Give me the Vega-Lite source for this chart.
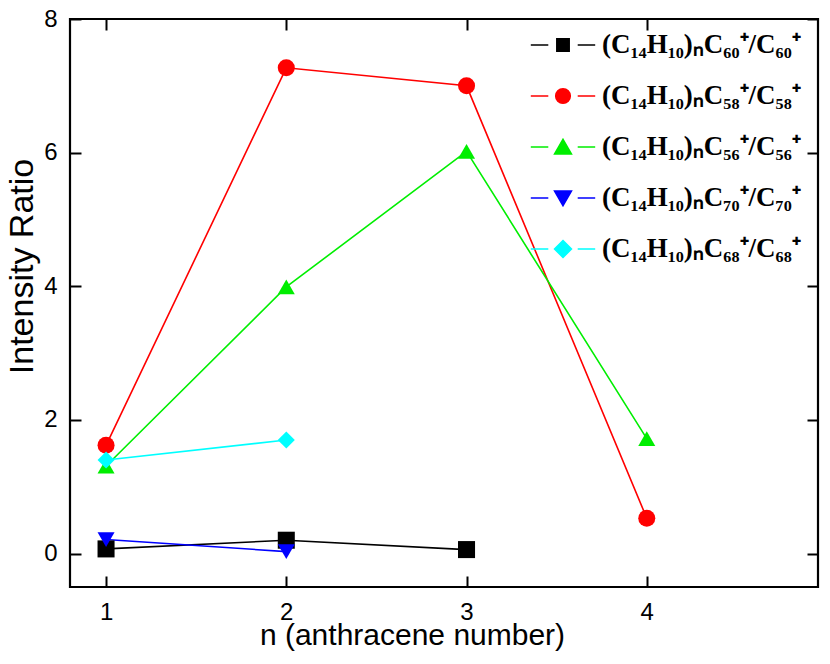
{
  "$schema": "https://vega.github.io/schema/vega-lite/v6.json",
  "autosize": "none",
  "padding": {"left": 70, "top": 19, "right": 12, "bottom": 77},
  "width": 748,
  "height": 568,
  "background": "white",
  "data": {
    "values": [
      {"series": "C60", "n": 1, "ratio": 0.07},
      {"series": "C60", "n": 2, "ratio": 0.2},
      {"series": "C60", "n": 3, "ratio": 0.06},
      {"series": "C58", "n": 1, "ratio": 1.62},
      {"series": "C58", "n": 2, "ratio": 7.27},
      {"series": "C58", "n": 3, "ratio": 7.0},
      {"series": "C58", "n": 4, "ratio": 0.53},
      {"series": "C56", "n": 1, "ratio": 1.31},
      {"series": "C56", "n": 2, "ratio": 3.99},
      {"series": "C56", "n": 3, "ratio": 6.02},
      {"series": "C56", "n": 4, "ratio": 1.72},
      {"series": "C70", "n": 1, "ratio": 0.21},
      {"series": "C70", "n": 2, "ratio": 0.03},
      {"series": "C68", "n": 1, "ratio": 1.4},
      {"series": "C68", "n": 2, "ratio": 1.7}
    ]
  },
  "layer": [
    {
      "mark": {"type": "line", "strokeWidth": 1.6},
      "encoding": {
        "x": {"field": "n", "type": "quantitative", "scale": {"domain": [0.8, 4.95], "nice": false, "zero": false},
          "axis": {"orient": "bottom", "values": [1, 2, 3, 4], "title": "n (anthracene number)", "labelPadding": 24,
            "titleFontSize": 30, "titleX": 342, "titleY": 57, "titleAlign": "center", "titleBaseline": "alphabetic"}},
        "y": {"field": "ratio", "type": "quantitative", "scale": {"domain": [-0.5, 8], "nice": false, "zero": false},
          "axis": {"orient": "left", "values": [0, 2, 4, 6, 8], "title": "Intensity Ratio", "labelPadding": 24,
            "titleFontSize": 34, "titleX": -38, "titleY": 247, "titleAngle": 270, "titleAlign": "center", "titleBaseline": "alphabetic"}},
        "color": {"field": "series", "type": "nominal", "legend": null,
          "scale": {"domain": ["C60", "C58", "C56", "C70", "C68"], "range": ["#000000", "#ff0000", "#00ee00", "#0000ff", "#00ffff"]}},
        "detail": {"field": "series"}
      }
    },
    {
      "mark": {"type": "point", "filled": true, "opacity": 1, "strokeWidth": 0},
      "encoding": {
        "x": {"field": "n", "type": "quantitative", "axis": null},
        "y": {"field": "ratio", "type": "quantitative", "axis": null},
        "fill": {"field": "series", "type": "nominal", "legend": null,
          "scale": {"domain": ["C60", "C58", "C56", "C70", "C68"], "range": ["#000000", "#ff0000", "#00ee00", "#0000ff", "#00ffff"]}},
        "shape": {"field": "series", "type": "nominal", "legend": null,
          "scale": {"domain": ["C60", "C58", "C56", "C70", "C68"], "range": ["square", "circle", "triangle-up", "triangle-down", "diamond"]}},
        "size": {"field": "series", "type": "nominal", "legend": null,
          "scale": {"domain": ["C60", "C58", "C56", "C70", "C68"], "range": [290, 290, 470, 470, 560]}}
      }
    },
    {
      "mark": {"type": "point", "filled": true, "opacity": 0, "size": 784},
      "encoding": {
        "x": {"field": "n", "type": "quantitative", "axis": null},
        "y": {"field": "ratio", "type": "quantitative", "axis": null},
        "fill": {"field": "series", "type": "nominal",
          "scale": {"domain": ["C60", "C58", "C56", "C70", "C68"], "range": ["#000000", "#ff0000", "#00ee00", "#0000ff", "#00ffff"]},
          "legend": {
            "orient": "none", "legendX": 478, "legendY": 11, "title": null, "padding": 0,
            "symbolOpacity": 1, "symbolSize": 784, "symbolStrokeWidth": 1.6, "labelOffset": 24, "rowPadding": 23, "labelLimit": 0,
            "labelFont": "Liberation Serif", "labelFontWeight": "bold", "labelFontSize": 27, "labelColor": "black",
            "labelExpr": "{'C60': '(C₁₄H₁₀)ₙC₆₀⁺/C₆₀⁺', 'C58': '(C₁₄H₁₀)ₙC₅₈⁺/C₅₈⁺', 'C56': '(C₁₄H₁₀)ₙC₅₆⁺/C₅₆⁺', 'C70': '(C₁₄H₁₀)ₙC₇₀⁺/C₇₀⁺', 'C68': '(C₁₄H₁₀)ₙC₆₈⁺/C₆₈⁺'}[datum.value]",
            "encode": {"symbols": {"update": {
              "stroke": {"signal": "{'C60': '#000000', 'C58': '#ff0000', 'C56': '#00ee00', 'C70': '#0000ff', 'C68': '#00ffff'}[datum.value]"},
              "strokeWidth": {"value": 1.6},
              "size": {"value": 784},
              "opacity": {"value": 1}
            }}}
          }},
        "shape": {"field": "series", "type": "nominal",
          "scale": {"domain": ["C60", "C58", "C56", "C70", "C68"], "range": [
            "M-2.3,0H-1.05M1.05,0H2.3M-0.44,-0.44H0.44V0.44H-0.44Z",
            "M-2.3,0H-1.05M1.05,0H2.3M0.52,0A0.52,0.52 0 1,1 -0.52,0A0.52,0.52 0 1,1 0.52,0Z",
            "M-2.3,0H-1.05M1.05,0H2.3M0,-0.55L0.6,0.5L-0.6,0.5Z",
            "M-2.3,0H-1.05M1.05,0H2.3M0,0.55L0.6,-0.5L-0.6,-0.5Z",
            "M-2.3,0H-1.05M1.05,0H2.3M0,-0.6L0.6,0L0,0.6L-0.6,0Z"
          ]},
          "legend": {
            "orient": "none", "legendX": 478, "legendY": 11, "title": null, "padding": 0,
            "symbolOpacity": 1, "symbolSize": 784, "symbolStrokeWidth": 1.6, "labelOffset": 24, "rowPadding": 23, "labelLimit": 0,
            "labelFont": "Liberation Serif", "labelFontWeight": "bold", "labelFontSize": 27, "labelColor": "black",
            "labelExpr": "{'C60': '(C₁₄H₁₀)ₙC₆₀⁺/C₆₀⁺', 'C58': '(C₁₄H₁₀)ₙC₅₈⁺/C₅₈⁺', 'C56': '(C₁₄H₁₀)ₙC₅₆⁺/C₅₆⁺', 'C70': '(C₁₄H₁₀)ₙC₇₀⁺/C₇₀⁺', 'C68': '(C₁₄H₁₀)ₙC₆₈⁺/C₆₈⁺'}[datum.value]",
            "encode": {"symbols": {"update": {
              "stroke": {"signal": "{'C60': '#000000', 'C58': '#ff0000', 'C56': '#00ee00', 'C70': '#0000ff', 'C68': '#00ffff'}[datum.value]"},
              "strokeWidth": {"value": 1.6},
              "size": {"value": 784},
              "opacity": {"value": 1}
            }}}
          }}
      }
    },
    {
      "mark": {"type": "point", "opacity": 0},
      "encoding": {
        "x": {"field": "n", "type": "quantitative",
          "axis": {"orient": "top", "values": [1, 2, 3, 4], "labels": false, "title": null}},
        "y": {"field": "ratio", "type": "quantitative",
          "axis": {"orient": "right", "values": [0, 2, 4, 6, 8], "labels": false, "title": null}}
      }
    }
  ],
  "resolve": {
    "axis": {"x": "independent", "y": "independent"},
    "scale": {"shape": "independent", "fill": "independent", "size": "independent"}
  },
  "config": {
    "view": {"stroke": "black", "strokeWidth": 2.2},
    "axis": {
      "domain": false,
      "grid": false,
      "ticks": true,
      "tickColor": "black",
      "tickWidth": 2,
      "tickSize": -11,
      "labelFont": "Liberation Sans",
      "labelFontSize": 24,
      "labelColor": "black",
      "titleFont": "Liberation Sans",
      "titleFontSize": 32,
      "titleFontWeight": "normal",
      "titleColor": "black"
    }
  }
}
